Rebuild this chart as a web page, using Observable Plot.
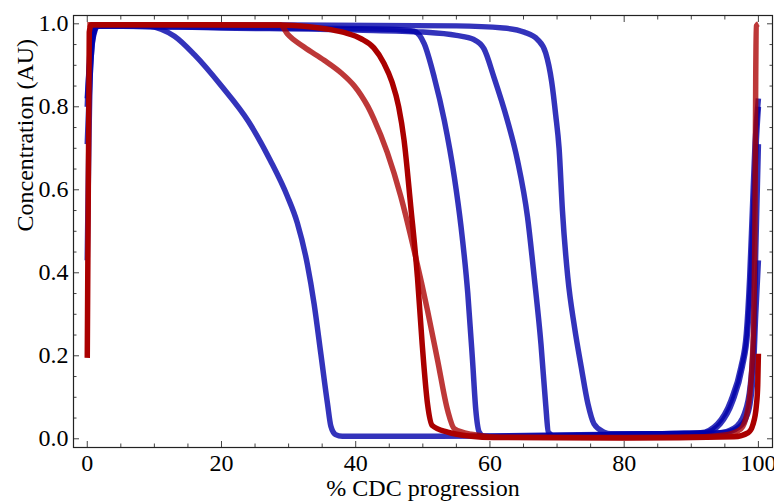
<!DOCTYPE html>
<html>
<head>
<meta charset="utf-8">
<script src="https://cdn.jsdelivr.net/npm/d3@7"></script>
<script src="https://cdn.jsdelivr.net/npm/@observablehq/plot@0.6"></script>
<style>
  html, body { margin: 0; padding: 0; background: #fff; }
  #chart { width: 774px; height: 503px; }
</style>
</head>
<body>
<div id="chart"></div>
<script>
// ---- data ----
const xTicks = [0, 20, 40, 60, 80, 100];
const xMinorTicks = [5, 10, 15, 25, 30, 35, 45, 50, 55, 65, 70, 75, 85, 90, 95];
const yTicks = [0, 0.2, 0.4, 0.6, 0.8, 1.0];
const yMinorTicks = [0.05, 0.1, 0.15, 0.25, 0.3, 0.35, 0.45, 0.5, 0.55, 0.65, 0.7, 0.75, 0.85, 0.9, 0.95];
const xLabel = "% CDC progression";
const yLabel = "Concentration (AU)";

const blueA = [[0,0.82],[0.7,0.96],[1.5,0.995],[5,0.997],[9,0.995],[11,0.987],[13,0.97],[16,0.925],[20,0.85],[24,0.765],[27.3,0.67],[29.8,0.585],[31.3,0.52],[32.8,0.42],[33.8,0.325],[34.8,0.205],[35.8,0.084],[36.3,0.03],[37,0.01],[38,0.006],[50,0.006],[60,0.007],[70,0.009],[80,0.011],[88,0.013],[91.4,0.0145],[93.9,0.036],[95.9,0.092],[97.4,0.173],[98.2,0.253],[98.7,0.389],[99.1,0.55],[99.5,0.711],[100,0.82]];
const blueB = [[0,0.80],[0.6,0.97],[1.2,0.995],[10,0.993],[30,0.99],[45,0.987],[48.7,0.982],[50.2,0.952],[51.7,0.871],[53.2,0.767],[54.7,0.63],[55.7,0.51],[56.7,0.35],[57.4,0.19],[57.9,0.068],[58.4,0.016],[59.1,0.006],[65,0.007],[75,0.009],[85,0.012],[92,0.0145],[94.3,0.036],[96.2,0.092],[97.6,0.173],[98.4,0.26],[98.9,0.4],[99.3,0.56],[99.7,0.72],[100,0.80]];
const blueC = [[0,0.71],[0.8,0.96],[1.6,0.995],[20,0.99],[40,0.985],[50,0.98],[55,0.972],[57.6,0.962],[59.1,0.94],[60.6,0.871],[62.6,0.767],[64.1,0.671],[65.6,0.534],[66.6,0.389],[67.6,0.229],[68.3,0.084],[68.7,0.016],[69.6,0.007],[80,0.01],[90,0.012],[94,0.014],[96.4,0.026],[97.9,0.06],[98.8,0.13],[99.3,0.25],[99.6,0.45],[100,0.71]];
const blueD = [[0,0.43],[0.5,0.9],[1.2,0.99],[1.8,0.997],[30,0.997],[55,0.995],[62,0.99],[65.1,0.98],[67.1,0.962],[68.3,0.93],[69.2,0.86],[69.8,0.78],[70.3,0.7],[70.8,0.55],[71.6,0.389],[72.6,0.269],[73.6,0.173],[74.6,0.084],[75.5,0.036],[77,0.016],[78,0.012],[85,0.012],[92,0.013],[95,0.015],[97,0.027],[98.4,0.06],[99.2,0.15],[99.6,0.3],[100,0.43]];
const redLight = [[0,0.998],[10,0.998],[28.8,0.997],[29.8,0.976],[32.3,0.944],[35.3,0.912],[37.8,0.882],[39.8,0.85],[40.8,0.828],[41.8,0.801],[42.7,0.771],[44.7,0.69],[46.7,0.585],[48.7,0.454],[50.7,0.309],[52.2,0.189],[53.7,0.068],[54.7,0.024],[57.2,0.011],[61.7,0.004],[80,0.003],[92,0.005],[95,0.009],[97.4,0.024],[98.4,0.068],[99.2,0.229],[99.5,0.55],[99.6,0.871],[99.7,0.995],[100,1.0]];
const redDark = [[0,0.195],[0.3,0.98],[0.6,0.998],[10,0.998],[28.8,0.997],[33,0.993],[36.3,0.986],[38.5,0.978],[40.8,0.964],[42.7,0.942],[44.2,0.905],[45.4,0.86],[46.4,0.8],[47.2,0.72],[48.2,0.56],[49.2,0.389],[49.9,0.229],[50.7,0.084],[51.4,0.032],[53.7,0.016],[57.2,0.006],[60.6,0.003],[80,0.002],[96.4,0.005],[98.5,0.015],[99.2,0.035],[99.7,0.08],[99.9,0.13],[100,0.205]];

const blueColor = "rgb(0,0,170)";
const redColor = "rgb(170,0,0)";

const font = "'Liberation Serif', 'Times New Roman', serif";
const lineOpts = (c, o) => ({x: d => d[0], y: d => d[1], stroke: c, strokeOpacity: o, strokeWidth: 5.5, curve: "monotone-x", strokeLinecap: "butt", strokeLinejoin: "round"});

const chart = Plot.plot({
  width: 774,
  height: 503,
  marginLeft: 73,
  marginRight: 2,
  marginTop: 15,
  marginBottom: 56,
  style: {fontFamily: font, fontSize: "24px", background: "#fff", color: "#000"},
  x: {domain: [-2.05, 102.1]},
  y: {domain: [-0.021, 1.02]},
  marks: [
    Plot.line(blueA, lineOpts(blueColor, 0.8)),
    Plot.line(blueB, lineOpts(blueColor, 0.8)),
    Plot.line(blueC, lineOpts(blueColor, 0.8)),
    Plot.line(blueD, lineOpts(blueColor, 0.8)),
    Plot.line(redLight, lineOpts(redColor, 0.78)),
    Plot.line(redDark, lineOpts(redColor, 1)),
    // inward ticks on all four sides
    Plot.axisX(xTicks, {anchor: "bottom", tickSize: -6, fill: "none", stroke: "#444", label: null}),
    Plot.axisX(xMinorTicks, {anchor: "bottom", tickSize: -3.5, fill: "none", stroke: "#444", label: null}),
    Plot.axisX(xTicks, {anchor: "top", tickSize: -6, fill: "none", stroke: "#444", label: null}),
    Plot.axisX(xMinorTicks, {anchor: "top", tickSize: -3.5, fill: "none", stroke: "#444", label: null}),
    Plot.axisY(yTicks, {anchor: "left", tickSize: -6, fill: "none", stroke: "#444", label: null}),
    Plot.axisY(yMinorTicks, {anchor: "left", tickSize: -3.5, fill: "none", stroke: "#444", label: null}),
    Plot.axisY(yTicks, {anchor: "right", tickSize: -6, fill: "none", stroke: "#444", label: null}),
    Plot.axisY(yMinorTicks, {anchor: "right", tickSize: -3.5, fill: "none", stroke: "#444", label: null}),
    // tick labels
    Plot.axisX(xTicks, {anchor: "bottom", tickSize: 0, tickPadding: 6.5, fontSize: 24, fontFamily: font, fill: "#000", label: null, tickFormat: d => String(d)}),
    Plot.axisY(yTicks, {anchor: "left", tickSize: 0, tickPadding: 5, fontSize: 24, fontFamily: font, fill: "#000", label: null, tickFormat: d => d.toFixed(1)}),
    Plot.frame({stroke: "#222", strokeWidth: 1.2}),
    // axis titles
    Plot.text([xLabel], {frameAnchor: "bottom", dy: 48, lineAnchor: "bottom", text: d => d, fontSize: 24, fontFamily: font, fill: "#000"}),
    Plot.text([yLabel], {frameAnchor: "left", dx: -40.5, rotate: -90, lineAnchor: "bottom", text: d => d, fontSize: 24, fontFamily: font, fill: "#000"})
  ]
});
document.getElementById("chart").appendChild(chart);
</script>
</body>
</html>
